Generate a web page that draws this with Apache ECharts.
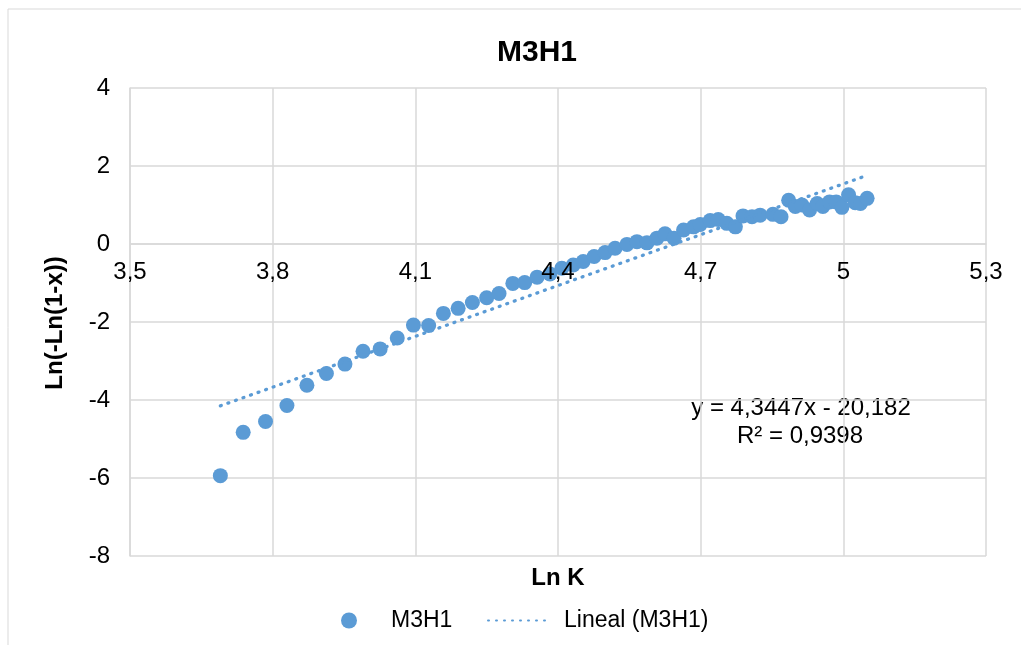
<!DOCTYPE html>
<html>
<head>
<meta charset="utf-8">
<script src="https://cdn.jsdelivr.net/npm/echarts@6/dist/echarts.min.js"></script>
<style>
  html, body { margin: 0; padding: 0; background: #fff; }
  #chart { width: 1021px; height: 645px; }
</style>
</head>
<body>
<div id="chart"></div>
<script>
// Ln K values
var lnK = [
  3.690, 3.738, 3.785, 3.830, 3.872, 3.913, 3.952, 3.990, 4.026, 4.062,
  4.096, 4.128, 4.159, 4.190, 4.220, 4.250, 4.276, 4.305, 4.330, 4.356,
  4.383, 4.408, 4.432, 4.453, 4.476, 4.499, 4.520, 4.545, 4.566, 4.587,
  4.608, 4.625, 4.644, 4.664, 4.685, 4.699, 4.720, 4.737, 4.755, 4.773,
  4.789, 4.808, 4.825, 4.852, 4.869, 4.885, 4.899, 4.913, 4.929, 4.945,
  4.957, 4.971, 4.985, 4.997, 5.011, 5.025, 5.036, 5.050
];
// Ln(-Ln(1-x)) values
var lnLn = [
  -5.94, -4.83, -4.55, -4.14, -3.62, -3.32, -3.08, -2.75, -2.69, -2.41,
  -2.08, -2.09, -1.78, -1.65, -1.50, -1.38, -1.27, -1.01, -0.99, -0.85,
  -0.77, -0.62, -0.54, -0.45, -0.32, -0.22, -0.11, -0.01, 0.06, 0.03,
  0.15, 0.26, 0.15, 0.36, 0.44, 0.50, 0.60, 0.63, 0.53, 0.44,
  0.72, 0.70, 0.74, 0.76, 0.70, 1.12, 0.96, 1.00, 0.87, 1.04,
  0.96, 1.08, 1.08, 0.94, 1.26, 1.06, 1.04, 1.17
];
// linear trend line (from the equation shown on the chart)
var slope = 4.3447;
var intercept = -20.182;
var r2 = 0.9398;

var seriesName = 'M3H1';
var trendName = 'Lineal (M3H1)';

var points = lnK.map(function (x, i) { return [x, lnLn[i]]; });
var xMin = Math.min.apply(null, lnK);
var xMax = Math.max.apply(null, lnK);
var trend = [[xMin, slope * xMin + intercept], [xMax, slope * xMax + intercept]];

function comma(v) { return String(v).replace('.', ','); }

var font = 'Liberation Sans, Arial, sans-serif';
var blue = '#5B9BD5';
var gridColor = '#d9d9d9';

var chart = echarts.init(document.getElementById('chart'));
chart.setOption({
  animation: false,
  textStyle: { fontFamily: font },
  title: {
    text: 'M3H1',
    left: 532,
    top: 33,
    textAlign: 'center',
    textStyle: { fontSize: 30, fontWeight: 'bold', color: '#000', fontFamily: font }
  },
  grid: { left: 130, right: 35, top: 88, bottom: 89 },
  xAxis: [
    {
      // grid lines + axis line, under the points
      type: 'value',
      min: 3.5,
      max: 5.3,
      interval: 0.3,
      position: 'bottom',
      offset: -312, // axis crosses at y = 0
      z: 0,
      axisLine: { show: true, onZero: false, lineStyle: { color: gridColor, width: 1.5 } },
      axisTick: { show: false },
      axisLabel: { show: false },
      splitLine: { show: true, lineStyle: { color: gridColor, width: 1.5 } }
    },
    {
      // tick labels, drawn above the points like Excel does
      type: 'value',
      min: 3.5,
      max: 5.3,
      interval: 0.3,
      position: 'bottom',
      offset: -312,
      z: 5,
      axisLine: { show: false, onZero: false },
      axisTick: { show: false },
      axisLabel: { fontSize: 24, color: '#000', margin: 16, formatter: comma },
      splitLine: { show: false }
    }
  ],
  yAxis: {
    type: 'value',
    min: -8,
    max: 4,
    interval: 2,
    axisLine: { show: true, onZero: false, lineStyle: { color: gridColor, width: 1.5 } },
    axisTick: { show: false },
    axisLabel: { fontSize: 24, color: '#000', margin: 20 },
    splitLine: { show: true, lineStyle: { color: gridColor, width: 1.5 } }
  },
  legend: [
    {
      data: [seriesName],
      left: 341,
      top: 609,
      padding: 0,
      itemWidth: 16,
      itemHeight: 16,
      icon: 'circle',
      textStyle: { fontSize: 23, color: '#000', padding: [0, 0, 0, 29] }
    },
    {
      data: [trendName],
      left: 487,
      top: 609,
      padding: 0,
      itemWidth: 64,
      itemHeight: 14,
      itemStyle: { color: 'rgba(0,0,0,0)', borderWidth: 0 },
      textStyle: { fontSize: 23, color: '#000', padding: [0, 0, 0, 7] }
    }
  ],
  graphic: [
    {
      type: 'rect',
      silent: true,
      shape: { x: 8, y: 9, width: 1100, height: 700 },
      style: { fill: 'none', stroke: gridColor, lineWidth: 1 }
    },
    {
      type: 'text',
      x: 558, y: 578,
      style: { text: 'Ln K', font: 'bold 24px ' + font, fill: '#000', textAlign: 'center', textVerticalAlign: 'middle' }
    },
    {
      type: 'text',
      x: 55, y: 323,
      rotation: Math.PI / 2,
      style: { text: 'Ln(-Ln(1-x))', font: 'bold 24px ' + font, fill: '#000', textAlign: 'center', textVerticalAlign: 'middle' }
    },
    {
      type: 'text',
      x: 801, y: 408,
      style: { text: 'y = ' + comma(slope) + 'x - ' + comma(-intercept), font: '24px ' + font, fill: '#000', textAlign: 'center', textVerticalAlign: 'middle' }
    },
    {
      type: 'text',
      x: 800, y: 436,
      style: { text: 'R² = ' + comma(r2), font: '24px ' + font, fill: '#000', textAlign: 'center', textVerticalAlign: 'middle' }
    }
  ],
  series: [
    {
      name: seriesName,
      type: 'scatter',
      xAxisIndex: 0,
      data: points,
      symbol: 'circle',
      symbolSize: 15,
      itemStyle: { color: blue, opacity: 1 }
    },
    {
      name: trendName,
      type: 'line',
      xAxisIndex: 0,
      data: trend,
      symbol: 'none',
      showSymbol: false,
      itemStyle: { color: blue },
      lineStyle: { color: blue, width: 3.3, type: [1, 7], cap: 'round' }
    }
  ]
});
</script>
</body>
</html>
